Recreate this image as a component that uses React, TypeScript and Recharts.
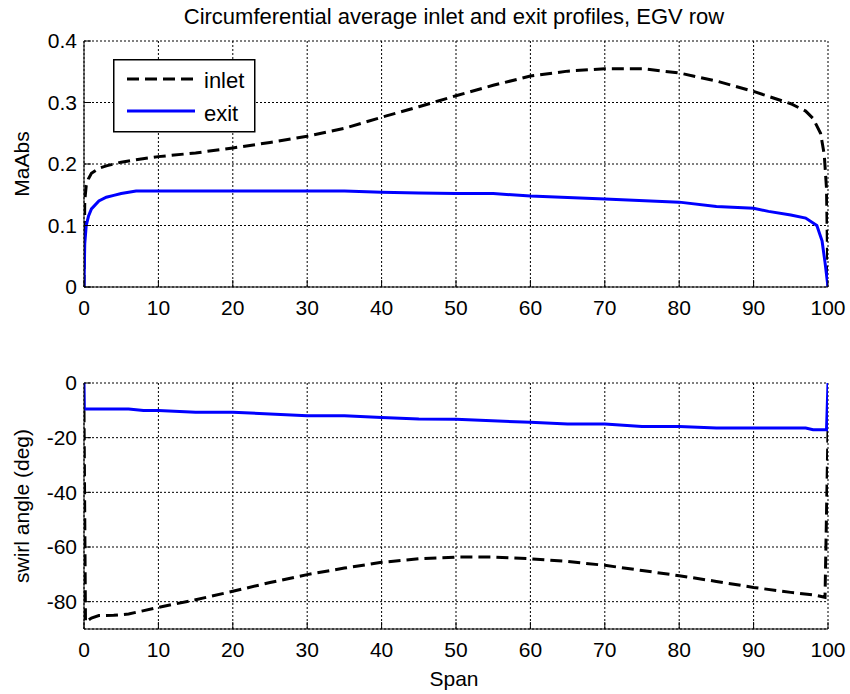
import React from 'react';
import { LineChart, Line, XAxis, YAxis, CartesianGrid, Legend, Label } from 'recharts';

// ---- data ----
const spanMaInlet = [0, 0.1, 0.3, 0.6, 1, 2, 3, 5, 7, 10, 15, 20, 25, 30, 35, 40, 45, 50, 55, 60, 65, 70, 75, 80, 85, 90, 95, 97, 98, 99, 99.5, 99.8, 100];
const maInlet = [0, 0.14, 0.165, 0.176, 0.185, 0.193, 0.197, 0.203, 0.207, 0.212, 0.218, 0.226, 0.235, 0.245, 0.258, 0.276, 0.293, 0.311, 0.328, 0.343, 0.351, 0.355, 0.355, 0.348, 0.335, 0.318, 0.298, 0.286, 0.274, 0.25, 0.215, 0.16, 0];

const spanMaExit = [0, 0.1, 0.3, 0.6, 1, 2, 3, 4, 5, 7, 10, 20, 30, 35, 40, 45, 50, 55, 60, 70, 80, 85, 90, 92, 95, 97, 98.5, 99.2, 99.6, 100];
const maExit = [0, 0.07, 0.1, 0.115, 0.127, 0.14, 0.146, 0.149, 0.152, 0.156, 0.156, 0.156, 0.156, 0.156, 0.154, 0.153, 0.152, 0.152, 0.148, 0.143, 0.138, 0.131, 0.128, 0.123, 0.117, 0.112, 0.1, 0.075, 0.04, 0];

const spanSwirlInlet = [0, 0.2, 1, 2, 4, 6, 10, 15, 20, 25, 30, 35, 40, 45, 50, 55, 60, 65, 70, 75, 80, 85, 90, 95, 98, 99.6, 100];
const swirlInlet = [-10, -87.5, -86, -85.1, -85, -84.5, -82.1, -79.3, -76.2, -73, -70.1, -67.7, -65.6, -64.3, -63.7, -63.7, -64.3, -65.3, -66.7, -68.6, -70.5, -72.6, -74.8, -76.6, -77.5, -78.4, -17];

const spanSwirlExit = [0, 0.05, 6, 8, 10, 15, 20, 30, 35, 40, 45, 50, 60, 65, 70, 75, 80, 85, 90, 97, 98, 99.8, 100];
const swirlExit = [0, -9.5, -9.5, -10.1, -10.1, -10.7, -10.7, -12, -12, -12.6, -13.2, -13.3, -14.4, -15, -15, -15.9, -15.9, -16.5, -16.5, -16.5, -17.1, -17.1, 0];

const xTicks = [0, 10, 20, 30, 40, 50, 60, 70, 80, 90, 100];
const maTicks = [0, 0.1, 0.2, 0.3, 0.4];
const swirlTicks = [-80, -60, -40, -20, 0];

const seriesNames = ['inlet', 'exit'];
const titleText = 'Circumferential average inlet and exit profiles, EGV row';
const xLabel = 'Span';
const maLabel = 'MaAbs';
const swirlLabel = 'swirl angle (deg)';

const zip = (xs: number[], ys: number[]) => xs.map((x, i) => ({ x, y: ys[i] }));

const FONT = '"Liberation Sans", Arial, sans-serif';
const FS = 21;
const FS2 = 22;
const tickStyle = { fill: '#000', fontSize: FS, fontFamily: FONT };
const INLET_DASH = '12 6';
const BLUE = '#0000ff';

const LegendBox = () => (
  <svg width={143} height={74} style={{ display: 'block' }}>
    <rect x={0.75} y={0.75} width={141} height={72} fill="#fff" stroke="#000" strokeWidth={1.5} />
    <line x1={14} y1={20} x2={82} y2={20} stroke="#000" strokeWidth={3} strokeDasharray={INLET_DASH} />
    <text x={91} y={29} fontSize={FS2} fontFamily={FONT} fill="#000">{seriesNames[0]}</text>
    <line x1={14} y1={52} x2={82} y2={52} stroke={BLUE} strokeWidth={3} />
    <text x={91} y={62} fontSize={FS2} fontFamily={FONT} fill="#000">{seriesNames[1]}</text>
  </svg>
);

export default function App() {
  return (
    <div style={{ position: 'absolute', left: 0, top: 0, width: 850, height: 694, background: '#fff', fontFamily: FONT }}>
      <div style={{ position: 'absolute', left: 0, top: 0 }}>
        <LineChart width={850} height={340} margin={{ top: 41, right: 22, bottom: 0, left: 0 }}>
          <CartesianGrid stroke="#000" strokeDasharray="2 2" strokeWidth={1} />
          <XAxis dataKey="x" type="number" domain={[0, 100]} ticks={xTicks} allowDataOverflow height={53}
            stroke="#000" tick={tickStyle} tickSize={-7} tickMargin={20} interval={0}>
            <Label content={() => (
              <text x={454} y={24} textAnchor="middle" fontSize={FS2} fontFamily={FONT} fill="#000">{titleText}</text>
            )} />
          </XAxis>
          <XAxis xAxisId="top" orientation="top" dataKey="x" type="number" domain={[0, 100]} ticks={xTicks} height={0}
            stroke="#000" tick={false} tickSize={-7} allowDataOverflow />
          <YAxis type="number" domain={[0, 0.4]} ticks={maTicks} allowDataOverflow width={84}
            stroke="#000" tick={tickStyle} tickSize={-7} tickMargin={14} interval={0}>
            <Label content={() => (
              <text x={29} y={164} transform="rotate(-90, 29, 164)" textAnchor="middle" fontSize={FS} fontFamily={FONT} fill="#000">{maLabel}</text>
            )} />
          </YAxis>
          <YAxis yAxisId="r" orientation="right" type="number" domain={[0, 0.4]} ticks={maTicks} width={0}
            stroke="#000" tick={false} tickSize={-7} allowDataOverflow />
          <Legend layout="horizontal" verticalAlign="middle" align="center"
            wrapperStyle={{ position: 'absolute', left: 113, top: 59, width: 143, height: 74 }}
            content={() => <LegendBox />} />
          <Line data={zip(spanMaInlet, maInlet)} dataKey="y" name={seriesNames[0]} type="linear" dot={false}
            stroke="#000" strokeWidth={3} strokeDasharray={INLET_DASH} isAnimationActive={false} />
          <Line data={zip(spanMaExit, maExit)} dataKey="y" name={seriesNames[1]} type="linear" dot={false}
            stroke={BLUE} strokeWidth={3} isAnimationActive={false} />
        </LineChart>
      </div>
      <div style={{ position: 'absolute', left: 0, top: 340 }}>
        <LineChart width={850} height={354} margin={{ top: 43, right: 22, bottom: 0, left: 0 }}>
          <CartesianGrid stroke="#000" strokeDasharray="2 2" strokeWidth={1} />
          <XAxis dataKey="x" type="number" domain={[0, 100]} ticks={xTicks} allowDataOverflow height={65}
            stroke="#000" tick={tickStyle} tickSize={-7} tickMargin={20} interval={0}>
            <Label content={() => (
              <text x={454} y={346} textAnchor="middle" fontSize={FS} fontFamily={FONT} fill="#000">{xLabel}</text>
            )} />
          </XAxis>
          <XAxis xAxisId="top" orientation="top" dataKey="x" type="number" domain={[0, 100]} ticks={xTicks} height={0}
            stroke="#000" tick={false} tickSize={-7} allowDataOverflow />
          <YAxis type="number" domain={[-90, 0]} ticks={swirlTicks} allowDataOverflow width={84}
            stroke="#000" tick={tickStyle} tickSize={-7} tickMargin={14} interval={0}>
            <Label content={() => (
              <text x={29} y={166} transform="rotate(-90, 29, 166)" textAnchor="middle" fontSize={FS} fontFamily={FONT} fill="#000">{swirlLabel}</text>
            )} />
          </YAxis>
          <YAxis yAxisId="r" orientation="right" type="number" domain={[-90, 0]} ticks={swirlTicks} width={0}
            stroke="#000" tick={false} tickSize={-7} allowDataOverflow />
          <Line data={zip(spanSwirlInlet, swirlInlet)} dataKey="y" name={seriesNames[0]} type="linear" dot={false}
            stroke="#000" strokeWidth={3} strokeDasharray={INLET_DASH} isAnimationActive={false} />
          <Line data={zip(spanSwirlExit, swirlExit)} dataKey="y" name={seriesNames[1]} type="linear" dot={false}
            stroke={BLUE} strokeWidth={3} isAnimationActive={false} />
        </LineChart>
      </div>
    </div>
  );
}
